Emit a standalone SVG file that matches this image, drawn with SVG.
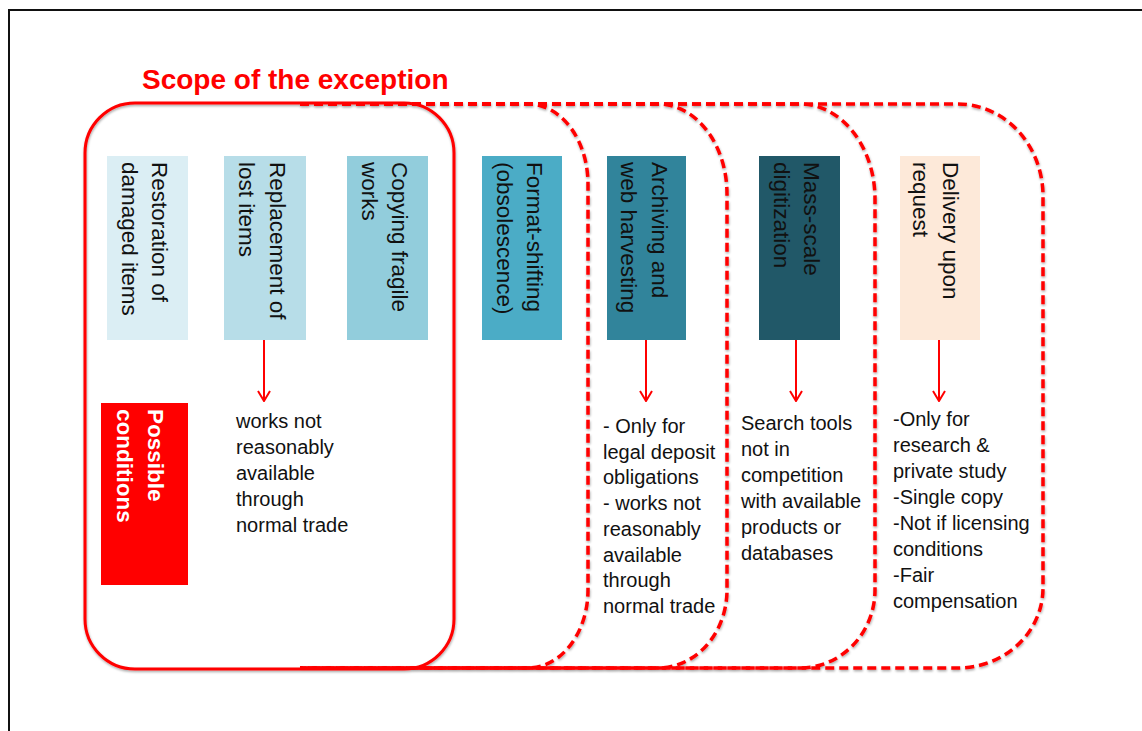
<svg xmlns="http://www.w3.org/2000/svg" width="1142" height="731" viewBox="0 0 1142 731">
<style>
.frame{fill:none;stroke:#111;stroke-width:2}
.scope{fill:none;stroke:#ff0000;stroke-width:3}
.dash{fill:none;stroke:#ff0000;stroke-width:3.5;stroke-dasharray:9 5}
.title{font-family:"Liberation Sans",Arial,sans-serif;font-weight:bold;font-size:28px;fill:#ff0000}
.vt{font-family:"Liberation Sans",Arial,sans-serif;font-size:22.5px;fill:#111}
.vtw{font-family:"Liberation Sans",Arial,sans-serif;font-size:22.5px;font-weight:bold;fill:#fff}
.lt{font-family:"Liberation Sans",Arial,sans-serif;font-size:20px;fill:#111}
.conn{stroke:#ff0000;stroke-width:2;fill:none}
</style>
<defs>
<filter id="sh" x="-5%" y="-5%" width="110%" height="110%">
<feDropShadow dx="0.5" dy="1.5" stdDeviation="1" flood-color="#000" flood-opacity="0.35"/>
</filter>
<marker id="arr" viewBox="0 0 12 14" refX="11" refY="7" markerWidth="12" markerHeight="14" markerUnits="userSpaceOnUse" orient="auto">
<path d="M1,1 L11,7 L1,13" fill="none" stroke="#ff0000" stroke-width="2"/>
</marker>
</defs>
<rect x="0" y="0" width="1142" height="731" fill="#fff"/>
<path class="frame" d="M9,731 V10 H1142"/>
<text class="title" x="142" y="89">Scope of the exception</text>

<g id="scopes" filter="url(#sh)">
<path class="dash" d="M300,104 H958 A85,92 0 0 1 1043,196 V588 A85,80 0 0 1 958,668 H300"/>
<path class="dash" d="M300,104 H800 A75,95 0 0 1 875,199 V590 A75,78 0 0 1 800,668 H300"/>
<path class="dash" d="M300,104 H658 A69,90 0 0 1 727,194 V590 A69,78 0 0 1 658,668 H300"/>
<path class="dash" d="M300,104 H528 A60,80 0 0 1 588,184 V590 A60,78 0 0 1 528,668 H300"/>
<rect id="scope-solid" class="scope" x="85" y="103" width="369" height="566" rx="50" ry="50"/>
</g>

<g id="n-restoration">
<rect x="107" y="156" width="81" height="184" fill="#dbeef4"/>
<text class="vt" transform="translate(152,162) rotate(90)"><tspan x="0" y="0">Restoration of</tspan><tspan x="0" dy="30">damaged items</tspan></text>
</g>
<g id="n-replacement">
<rect x="224" y="156" width="82" height="184" fill="#b7dde8"/>
<text class="vt" transform="translate(270,162) rotate(90)"><tspan x="0" y="0">Replacement of</tspan><tspan x="0" dy="31">lost items</tspan></text>
</g>
<g id="n-copying">
<rect x="347" y="156" width="81" height="184" fill="#92cddc"/>
<text class="vt" transform="translate(392,162) rotate(90)"><tspan x="0" y="0">Copying fragile</tspan><tspan x="0" dy="30">works</tspan></text>
</g>
<g id="n-format">
<rect x="482" y="156" width="80" height="184" fill="#4bacc6"/>
<text class="vt" transform="translate(527,162) rotate(90)"><tspan x="0" y="0">Format-shifting</tspan><tspan x="0" dy="30">(obsolescence)</tspan></text>
</g>
<g id="n-archiving">
<rect x="607" y="156" width="79" height="184" fill="#31849b"/>
<text class="vt" transform="translate(652,162) rotate(90)"><tspan x="0" y="0">Archiving and</tspan><tspan x="0" dy="31">web harvesting</tspan></text>
</g>
<g id="n-mass">
<rect x="759" y="156" width="81" height="184" fill="#215868"/>
<text class="vt" transform="translate(804,162) rotate(90)"><tspan x="0" y="0">Mass-scale</tspan><tspan x="0" dy="30">digitization</tspan></text>
</g>
<g id="n-delivery">
<rect x="900" y="156" width="80" height="184" fill="#fde9d9"/>
<text class="vt" transform="translate(943,162) rotate(90)"><tspan x="0" y="0">Delivery upon</tspan><tspan x="0" dy="30">request</tspan></text>
</g>
<g id="n-possible">
<rect x="101" y="403" width="87" height="182" fill="#ff0000"/>
<text class="vtw" transform="translate(148,409) rotate(90)"><tspan x="0" y="0">Possible</tspan><tspan x="0" dy="31">conditions</tspan></text>
</g>

<g id="c-replacement">
<text class="lt"><tspan x="236" y="428">works not</tspan><tspan x="236" y="454">reasonably</tspan><tspan x="236" y="480">available</tspan><tspan x="236" y="506">through</tspan><tspan x="236" y="532">normal trade</tspan></text>
</g>
<g id="c-archiving">
<text class="lt"><tspan x="603" y="433">- Only for</tspan><tspan x="603" y="459">legal deposit</tspan><tspan x="603" y="484">obligations</tspan><tspan x="603" y="510">- works not</tspan><tspan x="603" y="536">reasonably</tspan><tspan x="603" y="562">available</tspan><tspan x="603" y="587">through</tspan><tspan x="603" y="613">normal trade</tspan></text>
</g>
<g id="c-mass">
<text class="lt"><tspan x="741" y="430">Search tools</tspan><tspan x="741" y="456">not in</tspan><tspan x="741" y="482">competition</tspan><tspan x="741" y="508">with available</tspan><tspan x="741" y="534">products or</tspan><tspan x="741" y="560">databases</tspan></text>
</g>
<g id="c-delivery">
<text class="lt"><tspan x="893" y="426">-Only for</tspan><tspan x="893" y="452">research &amp;</tspan><tspan x="893" y="478">private study</tspan><tspan x="893" y="504">-Single copy</tspan><tspan x="893" y="530">-Not if licensing</tspan><tspan x="893" y="556">conditions</tspan><tspan x="893" y="582">-Fair</tspan><tspan x="893" y="608">compensation</tspan></text>
</g>

<g id="connectors">
<line class="conn" x1="264" y1="340" x2="264" y2="401" marker-end="url(#arr)"/>
<line class="conn" x1="646" y1="340" x2="646" y2="401" marker-end="url(#arr)"/>
<line class="conn" x1="796" y1="340" x2="796" y2="401" marker-end="url(#arr)"/>
<line class="conn" x1="939" y1="340" x2="939" y2="401" marker-end="url(#arr)"/>
</g>
</svg>
